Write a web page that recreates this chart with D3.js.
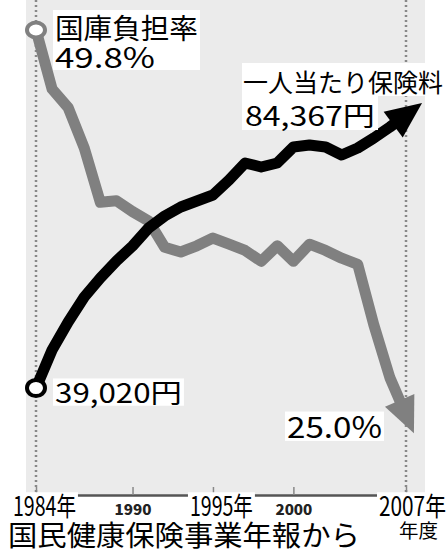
<!DOCTYPE html>
<html>
<head>
<meta charset="utf-8">
<script src="https://cdn.jsdelivr.net/npm/d3@7"></script>
<style>
  body { margin: 0; background: #fff; }
  svg { display: block; font-family: "Noto Sans CJK JP", "Noto Sans", sans-serif; }
</style>
</head>
<body>
<div id="chart"></div>
<script>
// 年度
const years = [1984, 1985, 1986, 1987, 1988, 1989, 1990, 1991, 1992, 1993, 1994, 1995,
               1996, 1997, 1998, 1999, 2000, 2001, 2002, 2003, 2004, 2005, 2006, 2007];
// 国庫負担率 (%)
const burdenRate = [49.8, 46.0, 44.8, 42.2, 38.7, 38.8, 38.1, 37.5, 35.8, 35.5, 35.9, 36.4,
                    36.0, 35.6, 34.9, 35.9, 34.9, 36.0, 35.6, 35.1, 34.7, 30.8, 27.4, 25.0];
// 一人当たり保険料 (円)
const premium = [39020, 45330, 49980, 54140, 57290, 60120, 62610, 65600, 67590, 69090, 70080, 71080,
                 73570, 76400, 75730, 76400, 79050, 79390, 79050, 77720, 78890, 80550, 82380, 84367];
// 軸ラベル
const tickYears = [1984, 1990, 1995, 2000, 2007];
const tickLabels = ['1984年', '1990', '1995年', '2000', '2007年'];

const width = 448, height = 555;

const svg = d3.select('#chart').append('svg')
    .attr('width', width)
    .attr('height', height);

const x = d3.scaleLinear().domain([1984, 2007]).range([36, 406]);
const yRate = d3.scaleLinear().domain([25, 49.8]).range([415, 30]);
const yYen = d3.scaleLinear().domain([39020, 84367]).range([388, 115]);
const axisY = 495;

// background panel
svg.append('rect')
    .attr('x', 26).attr('y', 0)
    .attr('width', 399).attr('height', axisY)
    .attr('fill', '#ebebeb');

// dotted guides at the first and last year
svg.selectAll('.guide')
    .data([1984, 2007])
    .enter().append('line')
        .attr('class', 'guide')
        .attr('x1', d => x(d)).attr('x2', d => x(d))
        .attr('y1', 0).attr('y2', axisY)
        .attr('stroke', '#888')
        .attr('stroke-width', 2.5)
        .attr('stroke-dasharray', '2,3');

// x axis
const xAxis = d3.axisBottom(x)
    .tickValues(tickYears)
    .tickSizeInner(-8)
    .tickSizeOuter(0)
    .tickFormat('');

const axisG = svg.append('g')
    .attr('transform', 'translate(0,' + axisY + ')')
    .call(xAxis);
axisG.select('.domain').attr('stroke', '#555').attr('stroke-width', 2.5);
axisG.selectAll('.tick line').attr('stroke', '#888').attr('stroke-width', 1.5);

// lines with arrowheads
function drawSeries(values, yScale, color) {
    const pts = years.map((yr, i) => [x(yr), yScale(values[i])]);
    svg.append('path')
        .datum(pts)
        .attr('d', d3.line())
        .attr('fill', 'none')
        .attr('stroke', color)
        .attr('stroke-width', 11)
        .attr('stroke-linejoin', 'round');

    const a = pts[pts.length - 2], b = pts[pts.length - 1];
    const dx = b[0] - a[0], dy = b[1] - a[1];
    const len = Math.sqrt(dx * dx + dy * dy);
    const ux = dx / len, uy = dy / len;
    const tip = [b[0] + ux * 20, b[1] + uy * 20];
    const base = [b[0] - ux * 16, b[1] - uy * 16];
    const hw = 16;
    svg.append('polygon')
        .attr('points', [tip,
            [base[0] - uy * hw, base[1] + ux * hw],
            [base[0] + uy * hw, base[1] - ux * hw]].map(p => p.join(',')).join(' '))
        .attr('fill', color);
    return pts;
}

const ratePts = drawSeries(burdenRate, yRate, '#808080');
const yenPts = drawSeries(premium, yYen, '#000');

// start markers
svg.append('ellipse')
    .attr('cx', ratePts[0][0]).attr('cy', ratePts[0][1])
    .attr('rx', 9).attr('ry', 7.5)
    .attr('fill', '#fff').attr('stroke', '#808080').attr('stroke-width', 4);
svg.append('ellipse')
    .attr('cx', yenPts[0][0]).attr('cy', yenPts[0][1])
    .attr('rx', 9).attr('ry', 8)
    .attr('fill', '#fff').attr('stroke', '#000').attr('stroke-width', 4);

// text squeezed to a target width, optionally stretched vertically, with white box
function labelText(txt, tx, ty, size, targetW, sy, opts) {
    opts = opts || {};
    const g = svg.append('g');
    const t = g.append('text')
        .attr('x', 0).attr('y', 0)
        .attr('font-size', size)
        .attr('font-weight', opts.weight || 400)
        .attr('fill', opts.fill || '#000')
        .attr('text-anchor', opts.anchor || 'start')
        .text(txt);
    const natural = t.node().getComputedTextLength();
    const sx = targetW ? targetW / natural : 1;
    g.attr('transform', 'translate(' + tx + ',' + ty + ') scale(' + sx + ',' + (sy || 1) + ')');
    if (opts.box) {
        const bb = t.node().getBBox();
        g.insert('rect', 'text')
            .attr('x', bb.x - 2 / sx).attr('y', -size * 0.9)
            .attr('width', bb.width + 4 / sx).attr('height', size * 1.0)
            .attr('fill', '#fff');
    }
    return g;
}

// series labels
svg.append('rect').attr('x', 53).attr('y', 10).attr('width', 147).attr('height', 60).attr('fill', '#fff');
labelText('国庫負担率', 55, 39, 28, 143);
labelText('49.8%', 55, 68, 28, 100);

svg.append('rect').attr('x', 242).attr('y', 63).attr('width', 206).attr('height', 33).attr('fill', '#fff');
svg.append('rect').attr('x', 242).attr('y', 96).attr('width', 136).attr('height', 34).attr('fill', '#fff');
labelText('一人当たり保険料', 243, 92, 25, 200);
labelText('84,367円', 245, 126, 27, 130);

labelText('39,020円', 55, 403, 26, 127, 1.05, {box: true});
labelText('25.0%', 287, 438, 28, 95, 1.05, {box: true});

// axis labels
tickYears.forEach((yr, i) => {
    const lbl = tickLabels[i];
    if (lbl.indexOf('年') >= 0) {
        const px = yr === 2007 ? 379 : x(yr) - 23;
        labelText(lbl, px, 516, 22, yr === 2007 ? 67 : 63, 1.2, {box: true});
    } else {
        labelText(lbl, x(yr) - 18, 515, 14, 37, 1.0, {weight: 900, fill: '#222'});
    }
});
labelText('年度', 399, 538, 19, 39);

// source
labelText('国民健康保険事業年報から', 8, 546, 28, 352, 1.0);
</script>
</body>
</html>
